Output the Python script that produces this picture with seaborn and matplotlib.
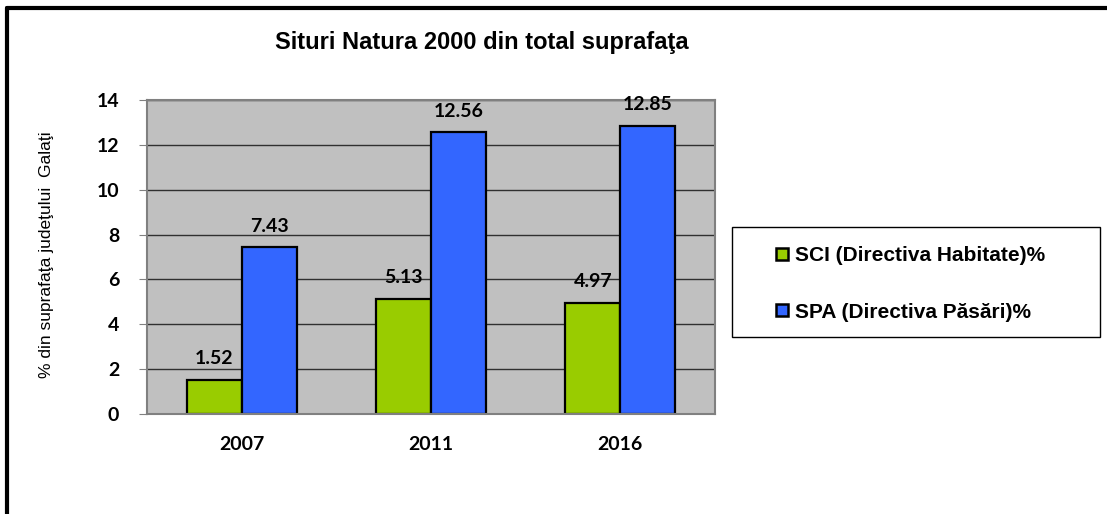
import pandas as pd
import matplotlib.pyplot as plt
import seaborn as sns
from matplotlib.lines import Line2D
from matplotlib.patches import Rectangle

# Data
years = ['2007', '2011', '2016']
sci = [1.52, 5.13, 4.97]
spa = [7.43, 12.56, 12.85]
series_names = ['SCI (Directiva Habitate)%', 'SPA (Directiva Păsări)%']
colors = ['#99CC00', '#3366FF']

df = pd.DataFrame({
    'An': years * 2,
    'Valoare': sci + spa,
    'Serie': [series_names[0]] * 3 + [series_names[1]] * 3,
})

sns.set_style('white')
plt.rcParams['font.family'] = ['Liberation Sans', 'DejaVu Sans']
plt.rcParams['text.color'] = 'black'
plt.rcParams['xtick.color'] = 'black'
plt.rcParams['ytick.color'] = 'black'

W, H = 1107, 514
fig = plt.figure(figsize=(W / 100, H / 100), dpi=100)
ax = fig.add_axes([147 / W, 1 - 414 / H, 568 / W, 314 / H])
ax.set_facecolor('#C0C0C0')

sns.barplot(data=df, x='An', y='Valoare', hue='Serie', palette=colors,
            width=0.58, edgecolor='black', linewidth=1.6, ax=ax, legend=False,
            saturation=1)

for cont in ax.containers:
    ax.bar_label(cont, labels=[f'{v:.2f}' for v in cont.datavalues], padding=9,
                 fontsize=14, fontweight='bold', family='Lato', color='black')

ax.set_ylim(0, 14)
ax.set_xlim(-0.5, 2.5)
ax.set_yticks(range(0, 15, 2))
ax.yaxis.grid(True, color='#303030', linewidth=1)
ax.set_axisbelow(True)
ax.set_xlabel('')
ax.set_ylabel('')
ax.set_xticks([-0.5, 0.5, 1.5, 2.5], minor=True)
ax.tick_params(axis='x', which='major', length=0, pad=16, labelcolor='black')
ax.tick_params(axis='x', which='minor', length=6, color='#808080', direction='out')
ax.tick_params(axis='y', length=6, color='#808080', direction='out', left=True, pad=14,
               labelcolor='black')
for lab in ax.get_xticklabels() + ax.get_yticklabels():
    lab.set_fontweight('bold')
    lab.set_fontsize(14)
    lab.set_family('Lato')
for sp in ax.spines.values():
    sp.set_color('#808080')
    sp.set_linewidth(1.5)

fig.text(482 / W, 1 - 43 / H, 'Situri Natura 2000 din total suprafaţa',
         ha='center', va='center', fontsize=17, fontweight='bold', color='black')
fig.text(47 / W, 1 - 255 / H, '% din suprafaţa judeţului  Galaţi',
         ha='center', va='center', rotation=90, fontsize=12.5, color='black')

# legend box
fig.add_artist(Rectangle((732 / W, 1 - 337 / H), 368 / W, 110 / H, transform=fig.transFigure,
                         facecolor='white', edgecolor='black', linewidth=1))
handles = [Line2D([], [], marker='s', linestyle='', markersize=9,
                  markerfacecolor=c, markeredgecolor='black', markeredgewidth=1.8)
           for c in colors]
leg = fig.legend(handles, series_names, loc='upper left',
                 bbox_to_anchor=(774 / W, 1 - 246 / H), frameon=False,
                 prop={'weight': 'bold', 'size': 15}, handletextpad=0.2,
                 labelspacing=1.8, borderpad=0, handlelength=0.8,
                 borderaxespad=0)
for t in leg.get_texts():
    t.set_color('black')

# outer chart frame (top and left edges visible)
fig.add_artist(Line2D([7 / W, 7 / W], [0, 1 - 8 / H], color='black', lw=3,
                      transform=fig.transFigure))
fig.add_artist(Line2D([7 / W, 1], [1 - 8 / H, 1 - 8 / H], color='black', lw=3,
                      transform=fig.transFigure))

fig.savefig('out.png', dpi=100)
